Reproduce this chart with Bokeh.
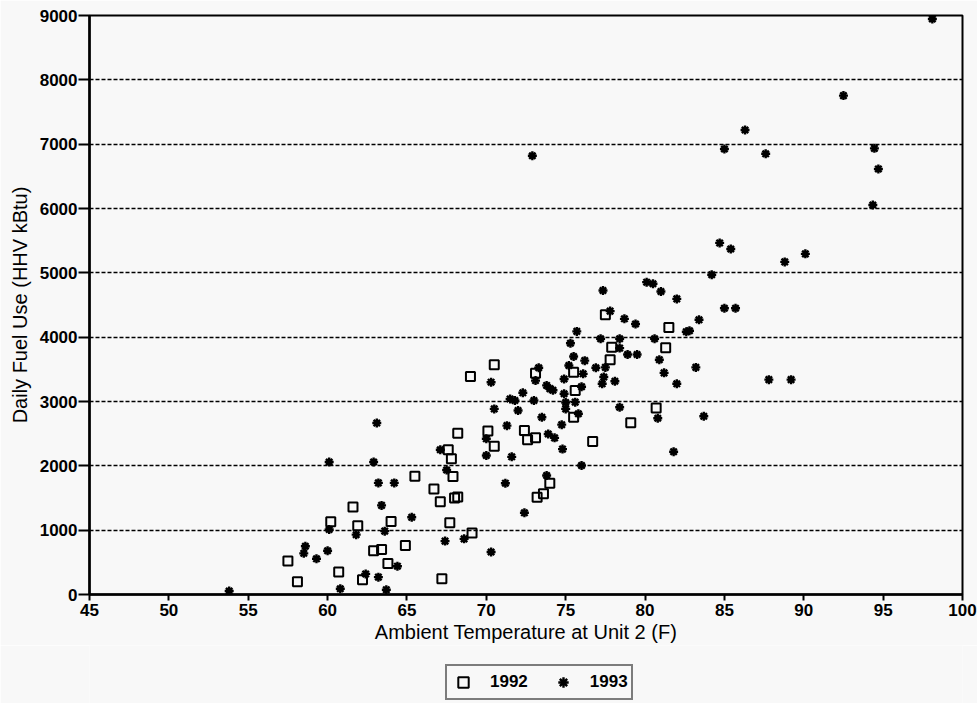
from bokeh.plotting import figure
from bokeh.models import Range1d, FixedTicker, Legend, LegendItem, ColumnDataSource
from bokeh.layouts import column
from bokeh.embed import file_html
from bokeh.resources import INLINE

# 1992 data (ambient temperature F, daily fuel use HHV kBtu)
temp_1992 = [57.5, 58.1, 60.2, 60.7, 61.6, 61.9, 62.2, 62.9, 63.4, 63.8, 64.0, 64.9,
             65.5, 66.7, 67.1, 67.2, 67.6, 67.7, 67.8, 67.9, 68.0, 68.2, 68.2, 69.0,
             69.1, 70.1, 70.5, 70.5, 72.4, 72.6, 73.1, 73.1, 73.2, 73.6, 74.0, 75.5,
             75.6, 75.5, 76.7, 77.5, 77.8, 77.9, 79.1, 80.7, 81.3, 81.5]
fuel_1992 = [520, 200, 1130, 350, 1360, 1070, 230, 680, 700, 480, 1135, 760,
             1840, 1640, 1440, 245, 2250, 1115, 2110, 1835, 1500, 1515, 2505, 3390,
             955, 2540, 3570, 2305, 2550, 2405, 3440, 2435, 1510, 1565, 1730, 3455,
             3170, 2755, 2380, 4350, 3650, 3845, 2670, 2900, 3835, 4150]

# 1993 data
temp_1993 = [53.8, 58.6, 58.5, 59.3, 60.0, 60.1, 60.1, 60.8, 61.8, 62.4, 62.9, 63.1,
             63.2, 63.2, 63.4, 63.6, 63.7, 64.2, 64.4, 65.3, 67.1, 67.4, 67.5, 68.6,
             70.0, 70.0, 70.3, 70.3, 70.5, 71.2, 71.3, 71.5, 71.6, 71.8, 72.0, 72.3,
             72.4, 72.9, 73.0, 73.1, 73.3, 73.5, 73.8, 73.8, 74.0, 74.2, 73.9, 74.3,
             74.75, 74.8, 74.9, 74.9, 75.0, 75.0, 75.2, 75.3, 75.5, 75.6, 75.8, 75.7,
             76.0, 76.0, 76.1, 76.2, 76.9, 77.2, 77.3, 77.35, 77.4, 77.5, 77.8, 78.1,
             78.4, 78.4, 78.4, 78.7, 78.9, 79.4, 79.5, 80.1, 80.5, 80.6, 80.8, 80.9,
             81.0, 81.2, 81.8, 82.0, 82.0, 82.6, 82.8, 83.2, 83.4, 83.7, 84.2, 84.7,
             85.0, 85.0, 85.4, 85.7, 86.3, 87.6, 87.8, 88.8, 89.2, 90.1, 92.5, 94.35,
             94.45, 94.7, 98.1]
fuel_1993 = [55, 750, 640, 555, 680, 2060, 1010, 90, 930, 320, 2060, 2665,
             270, 1735, 1385, 985, 75, 1735, 440, 1200, 2250, 830, 1935, 865,
             2420, 2160, 3300, 660, 2885, 1730, 2625, 3040, 2140, 3015, 2860, 3135,
             1270, 6820, 3015, 3325, 3525, 2755, 3250, 1850, 3200, 3175, 2495, 2435,
             2640, 2260, 3350, 3120, 2985, 2885, 3560, 3905, 3700, 2990, 2810, 4090,
             3230, 2005, 3430, 3635, 3525, 3975, 3275, 4725, 3380, 3530, 4405, 3315,
             3975, 3830, 2910, 4285, 3730, 4205, 3730, 4855, 4830, 3975, 2740, 3650,
             4710, 3445, 2220, 4595, 3275, 4085, 4100, 3530, 4270, 2770, 4970, 5465,
             4450, 6925, 5370, 4450, 7220, 6850, 3340, 5170, 3340, 5295, 7755, 6055,
             6935, 6615, 8945]

x_ticks = [45, 50, 55, 60, 65, 70, 75, 80, 85, 90, 95, 100]
y_ticks = [0, 1000, 2000, 3000, 4000, 5000, 6000, 7000, 8000, 9000]
series_labels = ["1992", "1993"]

BG = "#f8f8f8"
FONT = "Liberation Sans"

SQ = dict(marker="square", size=9, fill_color=None, line_color="black", line_width=2)
AS = dict(marker="asterisk", size=9, line_color="black", line_width=2.4)

p = figure(frame_width=873, frame_height=579,
           x_range=Range1d(45, 100), y_range=Range1d(0, 9000),
           output_backend="svg", toolbar_location=None,
           min_border_left=89, min_border_top=15, min_border_right=15,
           min_border_bottom=0,
           background_fill_color=BG, border_fill_color=BG)

p.outline_line_color = "black"
p.outline_line_width = 2

# grid
p.xgrid.visible = False
p.ygrid.ticker = FixedTicker(ticks=y_ticks)
p.ygrid.grid_line_color = "black"
p.ygrid.grid_line_width = 1.6
p.ygrid.grid_line_dash = "4 2"

# axes
p.xaxis.ticker = FixedTicker(ticks=x_ticks)
p.yaxis.ticker = FixedTicker(ticks=y_ticks)
for ax in (p.xaxis[0], p.yaxis[0]):
    ax.axis_line_color = "black"
    ax.axis_line_width = 2.5
    ax.major_tick_line_color = "black"
    ax.major_tick_line_width = 2
    ax.minor_tick_line_color = None
    ax.major_tick_in = 0
    ax.major_label_text_font = FONT
    ax.major_label_text_font_size = "17px"
    ax.major_label_text_font_style = "bold"
    ax.major_label_text_color = "black"
    ax.axis_label_text_font = FONT
    ax.axis_label_text_font_size = "20px"
    ax.axis_label_text_font_style = "normal"
    ax.axis_label_text_color = "black"

p.xaxis.major_tick_out = 6
p.xaxis.major_label_standoff = 3
p.yaxis.major_tick_out = 11
p.yaxis.major_label_standoff = 1
p.xaxis.axis_label = "Ambient Temperature at Unit 2 (F)"
p.yaxis.axis_label = "Daily Fuel Use (HHV kBtu)"
p.xaxis.axis_label_standoff = 2
p.yaxis.axis_label_standoff = 6

src92 = ColumnDataSource(dict(x=temp_1992, y=fuel_1992))
src93 = ColumnDataSource(dict(x=temp_1993, y=fuel_1993))

p.scatter("x", "y", source=src92, **SQ)
p.scatter("x", "y", source=src93, **AS)

# legend strip below the chart (its renderers hold one point outside the view,
# only so that the legend has glyphs to draw)
lp = figure(width=977, height=58, x_range=Range1d(0, 977), y_range=Range1d(0, 58),
            output_backend="svg", toolbar_location=None,
            min_border_left=0, min_border_right=0, min_border_top=0, min_border_bottom=0,
            background_fill_color=BG, border_fill_color=BG)
lp.outline_line_color = None
lp.axis.visible = False
lp.grid.visible = False
l92 = lp.scatter(x=[-1000], y=[-1000], **SQ)
l93 = lp.scatter(x=[-1000], y=[-1000], **AS)

legend = Legend(items=[LegendItem(label=series_labels[0], renderers=[l92]),
                       LegendItem(label=series_labels[1], renderers=[l93])],
                orientation="horizontal",
                location=(356, 3),
                border_line_color="black", border_line_width=2,
                background_fill_color=BG, background_fill_alpha=1,
                label_text_font=FONT, label_text_font_size="17px",
                label_text_font_style="bold", label_text_color="black",
                glyph_width=26, glyph_height=26, label_standoff=14,
                spacing=22, padding=3, margin=0)
lp.add_layout(legend, "center")

layout = column(p, lp, spacing=0)
open("out.html", "w").write(file_html(layout, INLINE))
